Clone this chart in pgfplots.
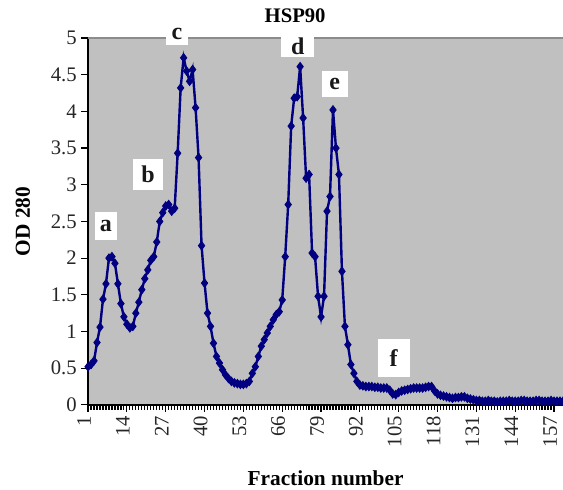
\documentclass[border=0pt]{standalone}
\usepackage{fontspec}
\setmainfont{Liberation Serif}
\usepackage{pgfplots}
\pgfplotsset{compat=1.18}
\definecolor{navy}{RGB}{0,0,128}
\definecolor{plotbg}{RGB}{192,192,192}
\tikzset{box/.style={fill=white, font=\bfseries\fontsize{18}{18}\selectfont, inner sep=0pt, text=black!90}}

\begin{document}
\begin{tikzpicture}
\begin{axis}[
    name=ax,
    scale only axis,
    width=356pt,
    height=275pt,
    xmin=1, xmax=160,
    ymin=0, ymax=5,
    axis lines*=left,
    axis line style={black, line width=1.5pt},
    axis background/.style={fill=plotbg},
    clip=false,
    xtick={1,14,27,40,53,66,79,92,105,118,131,144,157},
    minor x tick num=12,
    ytick={0,0.5,...,5},
    tick align=outside,
    major tick length=5pt,
    minor tick length=3.5pt,
    every tick/.style={black, line width=0.9pt},
    xticklabel style={rotate=90, anchor=east, yshift=3pt, font=\fontsize{15.5}{16}\selectfont},
    yticklabel style={font=\fontsize{15.5}{16}\selectfont, /pgf/number format/fixed},
    /pgf/number format/assume math mode=true,
    ticklabel style={color=black!85},
    xlabel={Fraction number},
    ylabel={OD 280},
    xlabel style={font=\bfseries\fontsize{16}{16}\selectfont, at={(axis description cs:0.5,-0.199)}, anchor=center},
    ylabel style={font=\bfseries\fontsize{16}{16}\selectfont, at={(axis description cs:-0.137,0.5)}, anchor=center},
]
\addplot[color=navy, line width=1.8pt, mark=diamond*, mark size=3.2pt, mark options={fill=navy, line width=0.6pt}] coordinates {
(1,0.52) (2,0.55) (3,0.6) (4,0.85) (5,1.06) (6,1.44) (7,1.65) (8,2.0) (9,2.02) (10,1.93)
(11,1.65) (12,1.38) (13,1.2) (14,1.1) (15,1.05) (16,1.07) (17,1.25) (18,1.4) (19,1.57) (20,1.72)
(21,1.84) (22,1.97) (23,2.02) (24,2.22) (25,2.5) (26,2.62) (27,2.71) (28,2.73) (29,2.64) (30,2.68)
(31,3.43) (32,4.32) (33,4.73) (34,4.55) (35,4.41) (36,4.57) (37,4.05) (38,3.37) (39,2.17) (40,1.66)
(41,1.25) (42,1.07) (43,0.84) (44,0.66) (45,0.57) (46,0.48) (47,0.41) (48,0.36) (49,0.32) (50,0.3)
(51,0.29) (52,0.28) (53,0.28) (54,0.29) (55,0.32) (56,0.43) (57,0.52) (58,0.66) (59,0.8) (60,0.89)
(61,0.98) (62,1.07) (63,1.16) (64,1.23) (65,1.27) (66,1.43) (67,2.02) (68,2.73) (69,3.8) (70,4.18)
(71,4.2) (72,4.61) (73,3.91) (74,3.09) (75,3.14) (76,2.07) (77,2.02) (78,1.48) (79,1.2) (80,1.48)
(81,2.64) (82,2.84) (83,4.02) (84,3.5) (85,3.14) (86,1.82) (87,1.07) (88,0.82) (89,0.55) (90,0.43)
(91,0.32) (92,0.27) (93,0.26) (94,0.25) (95,0.25) (96,0.25) (97,0.24) (98,0.24) (99,0.23) (100,0.23)
(101,0.23) (102,0.2) (103,0.15) (104,0.14) (105,0.17) (106,0.19) (107,0.2) (108,0.21) (109,0.22) (110,0.23)
(111,0.23) (112,0.23) (113,0.23) (114,0.24) (115,0.25) (116,0.25) (117,0.19) (118,0.15) (119,0.13) (120,0.12)
(121,0.11) (122,0.1) (123,0.09) (124,0.1) (125,0.1) (126,0.11) (127,0.11) (128,0.09) (129,0.08) (130,0.07)
(131,0.06) (132,0.06) (133,0.05) (134,0.05) (135,0.06) (136,0.05) (137,0.05) (138,0.04) (139,0.05) (140,0.05)
(141,0.05) (142,0.06) (143,0.05) (144,0.05) (145,0.05) (146,0.06) (147,0.06) (148,0.05) (149,0.05) (150,0.05)
(151,0.06) (152,0.06) (153,0.05) (154,0.05) (155,0.05) (156,0.06) (157,0.05) (158,0.05) (159,0.05) (160,0.05)
};
% top border of the plot area
\draw[black!45, line width=1pt] (rel axis cs:0,1) -- (rel axis cs:1,1);
% peak labels
\node[box, minimum width=16.5pt, minimum height=21pt] at (axis cs:7,2.44) {a};
\node[box, minimum width=22.5pt, minimum height=22.5pt] at (axis cs:21.1,3.14) {b};
\node[box, minimum width=17pt, minimum height=16pt] at (axis cs:30.8,5.05) {c};
\node[box, minimum width=25pt, minimum height=17pt] at (axis cs:71.2,4.89) {d};
\node[box, minimum width=19.5pt, minimum height=19.5pt] at (axis cs:83.6,4.37) {e};
\node[box, minimum width=24pt, minimum height=28pt] at (axis cs:103.3,0.64) {f};
\node[font=\bfseries\fontsize{15.5}{16}\selectfont, anchor=base] at ([yshift=12pt]rel axis cs:0.436,1) {HSP90};
\end{axis}
\pgfresetboundingbox
\path ([xshift=-66pt,yshift=-63.75pt]ax.south west) rectangle ([yshift=28.5pt]ax.north east);
\end{tikzpicture}
\end{document}
